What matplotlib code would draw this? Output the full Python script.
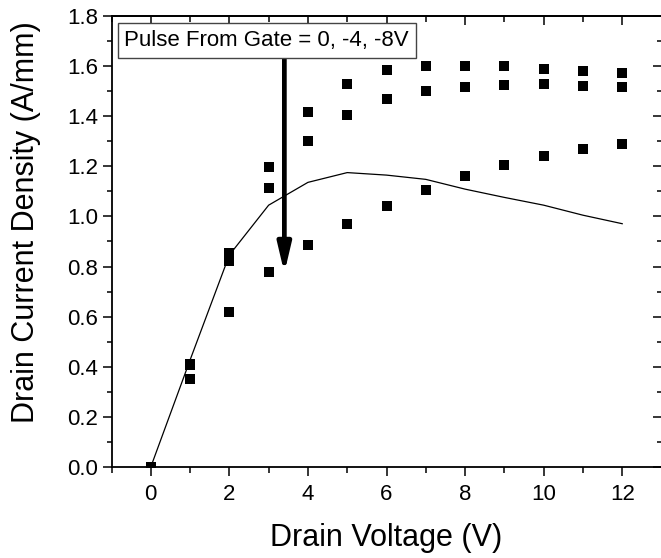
import numpy as np
import matplotlib
matplotlib.use("Agg")
import matplotlib.pyplot as plt
from matplotlib.ticker import MultipleLocator

# ======================
# Data
# ======================
vd = [0, 1, 2, 3, 4, 5, 6, 7, 8, 9, 10, 11, 12]
id_gate0 = [0.0, 0.41, 0.855, 1.196, 1.415, 1.53, 1.585, 1.60, 1.60, 1.60, 1.588, 1.581, 1.572]
id_gate4 = [0.0, 0.407, 0.821, 1.115, 1.30, 1.405, 1.47, 1.50, 1.517, 1.524, 1.528, 1.522, 1.515]
id_gate8 = [0.0, 0.35, 0.619, 0.777, 0.886, 0.97, 1.04, 1.105, 1.16, 1.206, 1.241, 1.268, 1.288]
id_dc = [0.0, 0.427, 0.846, 1.045, 1.136, 1.175, 1.165, 1.148, 1.109, 1.076, 1.045, 1.005, 0.971]

ARROW_X = 3.4
ARROW_Y0 = 1.635
ARROW_Y1 = 0.774
BOX_TEXT = "Pulse From Gate = 0, -4, -8V"

plt.rcParams['font.family'] = ['Liberation Sans', 'DejaVu Sans']

fig = plt.figure(figsize=(6.61, 5.58), dpi=100)
ax = fig.add_axes([111.5 / 661, 91 / 558, 550 / 661, 451 / 558])

ax.plot(vd, id_dc, color='black', linewidth=0.9)
for series in (id_gate0, id_gate4, id_gate8):
    ax.plot(vd, series, linestyle='none', marker='s', markersize=7,
            color='black', markeredgewidth=0)

# arrow
ax.annotate('', xy=(ARROW_X, ARROW_Y1), xytext=(ARROW_X, ARROW_Y0),
            arrowprops=dict(arrowstyle='-|>,head_length=1.7,head_width=0.4',
                            color='black', linewidth=3.4, shrinkA=0, shrinkB=0),
            zorder=5)

# text box
ax.text(-0.67, 1.702, BOX_TEXT, fontsize=16, va='center', ha='left',
        bbox=dict(boxstyle='square,pad=0.3', facecolor='white',
                  edgecolor='#444444', linewidth=1.0), zorder=6)

ax.set_xlim(-1, 13)
ax.set_ylim(0, 1.8)
ax.set_xticks([0, 2, 4, 6, 8, 10, 12])
ax.xaxis.set_minor_locator(MultipleLocator(1))
ax.yaxis.set_major_locator(MultipleLocator(0.2))
ax.yaxis.set_minor_locator(MultipleLocator(0.1))

ax.tick_params(which='both', labelsize=16, width=1.1, direction='out')
ax.tick_params(which='major', length=6.5)
ax.tick_params(axis='x', which='minor', length=4.5)
ax.tick_params(axis='y', which='minor', length=3.5)
ax.tick_params(axis='x', which='both', pad=6)
ax.tick_params(axis='y', which='both', pad=3)

for side in ax.spines.values():
    side.set_linewidth(1.3)

ax.set_xlabel("Drain Voltage (V)", fontsize=22, labelpad=13)
ax.set_ylabel("Drain Current Density (A/mm)", fontsize=22)
ax.yaxis.set_label_coords(-0.128, 0.543)

# top/right ticks point inwards
sec_x = ax.secondary_xaxis('top')
sec_x.set_xticks([0, 2, 4, 6, 8, 10, 12])
sec_x.xaxis.set_minor_locator(MultipleLocator(1))
sec_x.tick_params(which='both', direction='in', labeltop=False, width=1.1)
sec_x.tick_params(which='major', length=6.5)
sec_x.tick_params(which='minor', length=4.5)
sec_x.spines['top'].set_linewidth(1.3)
sec_y = ax.secondary_yaxis('right')
sec_y.yaxis.set_major_locator(MultipleLocator(0.2))
sec_y.yaxis.set_minor_locator(MultipleLocator(0.1))
sec_y.tick_params(which='both', direction='in', labelright=False, width=1.1)
sec_y.tick_params(which='major', length=6.5)
sec_y.tick_params(which='minor', length=3.5)
sec_y.spines['right'].set_linewidth(1.3)

fig.savefig("out.png", dpi=100)
